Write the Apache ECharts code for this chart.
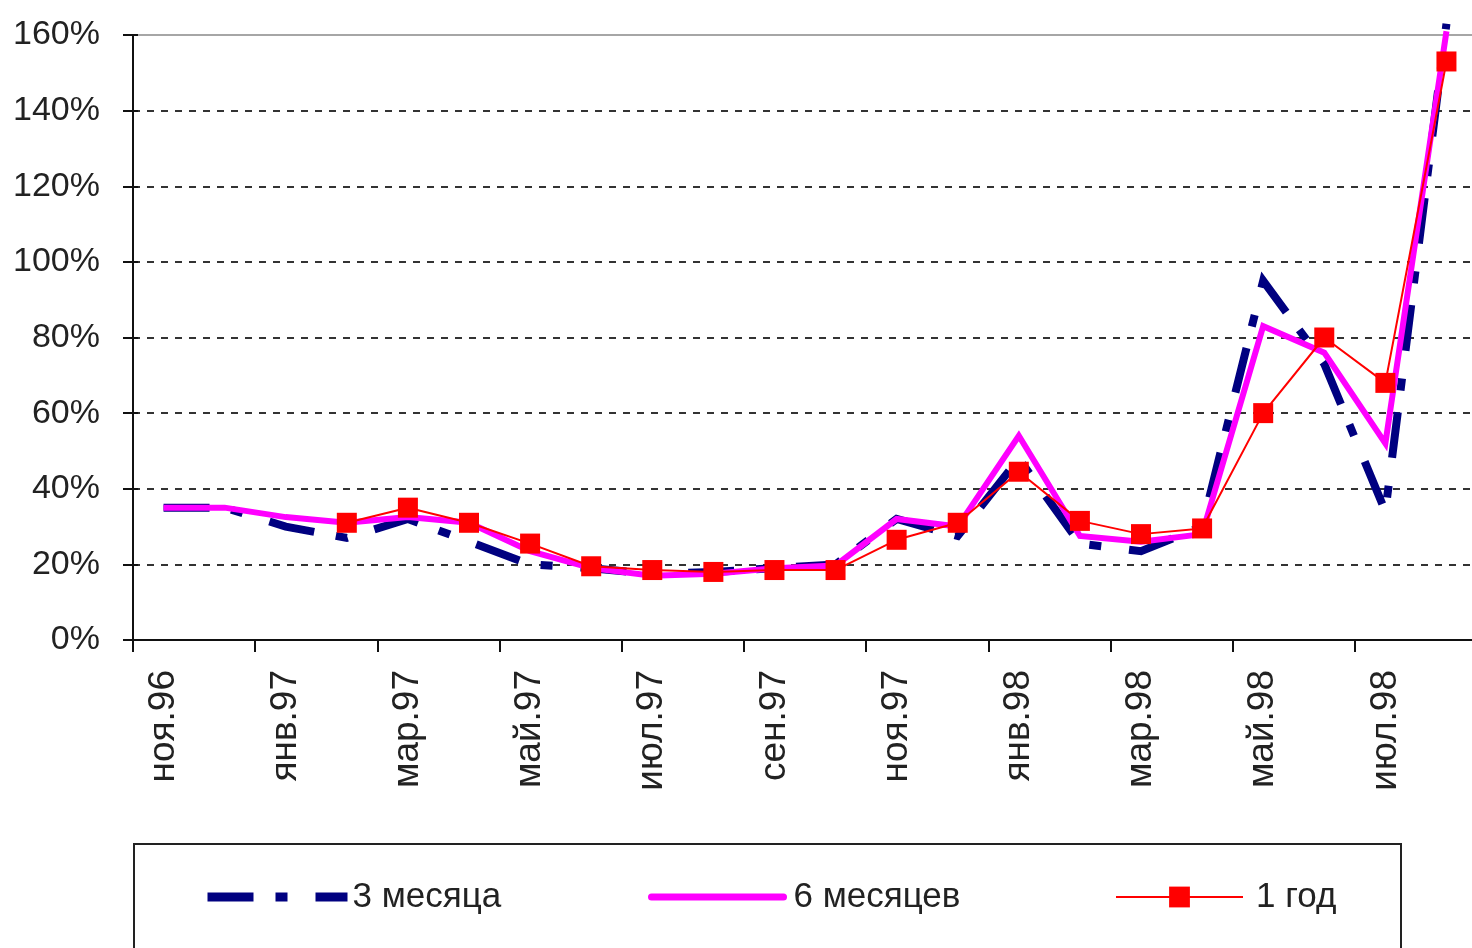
<!DOCTYPE html>
<html>
<head>
<meta charset="utf-8">
<title>Доходность</title>
<script src="https://cdn.jsdelivr.net/npm/echarts@6/dist/echarts.min.js"></script>
<style>
  html, body { margin: 0; padding: 0; background: #ffffff; overflow: hidden; }
  #chart { width: 1472px; height: 948px; }
</style>
</head>
<body>
<div id="chart"></div>
<script>
// Monthly categories, Nov 1996 – Aug 1998
const months = ['ноя.96','дек.96','янв.97','фев.97','мар.97','апр.97','май.97','июн.97',
  'июл.97','авг.97','сен.97','окт.97','ноя.97','дек.97','янв.98','фев.98','мар.98',
  'апр.98','май.98','июн.98','июл.98','авг.98'];

// Yields, percent
const threeMonths = [35, 35, 30, 27, 32, 26, 20, 19, 17.5, 18, 19, 20, 32, 27.5, 48, 25.5, 23.5, 30, 95, 73, 34, 163];
const sixMonths   = [35, 35, 32.5, 31, 32.5, 31, 23.5, 19, 17, 17.5, 19, 19.7, 32, 30, 54, 27.5, 26, 28, 83, 76, 52, 161];
const oneYear     = [null, null, null, 31, 35, 31, 25.5, 19.5, 18.5, 18, 18.5, 18.5, 26.5, 31, 44.5, 31.5, 28, 29.5, 60, 80, 68, 153];

const seriesNames = ['3 месяца', '6 месяцев', '1 год'];
const yTicks = { min: 0, max: 160, interval: 20 };

const textFont = "'Liberation Sans', Arial, sans-serif";
const navyDash = [46, 22, 12, 28];
const hiddenSymbol = { color: 'rgba(0,0,0,0)', borderWidth: 0, opacity: 0 };
const legendText = { fontFamily: textFont, fontSize: 35, color: '#222', lineHeight: 36 };

const chart = echarts.init(document.getElementById('chart'), null, { renderer: 'canvas' });

chart.setOption({
  animation: false,
  backgroundColor: '#ffffff',
  grid: {
    left: 133, top: 35, width: 1344, bottom: 308,
    outerBoundsMode: 'none',
    show: true, borderColor: '#a6a6a6', borderWidth: 2, backgroundColor: 'transparent'
  },
  xAxis: {
    type: 'category',
    data: months,
    boundaryGap: true,
    axisLine: { lineStyle: { color: '#111', width: 2 } },
    axisTick: { show: true, interval: 1, length: 12, lineStyle: { color: '#111', width: 2 } },
    axisLabel: {
      interval: 1, rotate: 90, margin: 30,
      fontFamily: textFont, fontSize: 37, color: '#222'
    },
    splitLine: { show: false }
  },
  yAxis: [
    {
      type: 'value', min: yTicks.min, max: yTicks.max, interval: yTicks.interval,
      axisLine: { show: true, lineStyle: { color: '#111', width: 2 } },
      axisTick: { show: true, length: 10, lineStyle: { color: '#111', width: 2 } },
      axisLabel: {
        formatter: '{value}%', margin: 33,
        fontFamily: textFont, fontSize: 34, color: '#222'
      },
      splitLine: {
        show: true, showMinLine: false, showMaxLine: false,
        lineStyle: { color: '#333', width: 2, type: [7, 7] }
      }
    },
    {
      // inner half of the cross-shaped ticks
      type: 'value', min: yTicks.min, max: yTicks.max, interval: yTicks.interval,
      position: 'left',
      axisLine: { show: false },
      axisTick: { show: true, inside: true, length: 5, lineStyle: { color: '#111', width: 2 } },
      axisLabel: { show: false },
      splitLine: { show: false }
    }
  ],
  legend: [
    {
      data: [seriesNames[0]], left: 203, top: 879, padding: 0,
      itemWidth: 140, itemHeight: 26,
      itemStyle: hiddenSymbol,
      lineStyle: { color: '#000080', width: 9, type: navyDash, cap: 'butt' },
      textStyle: legendText
    },
    {
      data: [seriesNames[1]], left: 648, top: 879, padding: 0,
      itemWidth: 132, itemHeight: 26,
      itemStyle: hiddenSymbol,
      lineStyle: { color: '#ff00ff', width: 7, cap: 'round' },
      textStyle: Object.assign({ padding: [0, 0, 0, 5] }, legendText)
    },
    {
      data: [seriesNames[2]], left: 1115, top: 879, padding: 0,
      itemWidth: 127, itemHeight: 26,
      lineStyle: { color: '#ff0000', width: 2 },
      textStyle: Object.assign({ padding: [0, 0, 0, 8] }, legendText)
    }
  ],
  graphic: [
    {
      type: 'rect', left: 133, top: 843, z: 0, silent: true,
      shape: { width: 1267, height: 140 },
      style: { fill: 'transparent', stroke: '#222', lineWidth: 2 }
    }
  ],
  series: [
    {
      name: seriesNames[0], type: 'line', data: threeMonths,
      symbol: 'none', clip: false,
      itemStyle: { color: '#000080' },
      lineStyle: { color: '#000080', width: 8, type: navyDash, join: 'miter' }
    },
    {
      name: seriesNames[1], type: 'line', data: sixMonths,
      symbol: 'none', clip: false,
      itemStyle: { color: '#ff00ff' },
      lineStyle: { color: '#ff00ff', width: 6, join: 'miter' }
    },
    {
      name: seriesNames[2], type: 'line', data: oneYear,
      symbol: 'rect', symbolSize: 20, clip: false,
      itemStyle: { color: '#ff0000' },
      lineStyle: { color: '#ff0000', width: 2 }
    }
  ]
});
</script>
</body>
</html>
